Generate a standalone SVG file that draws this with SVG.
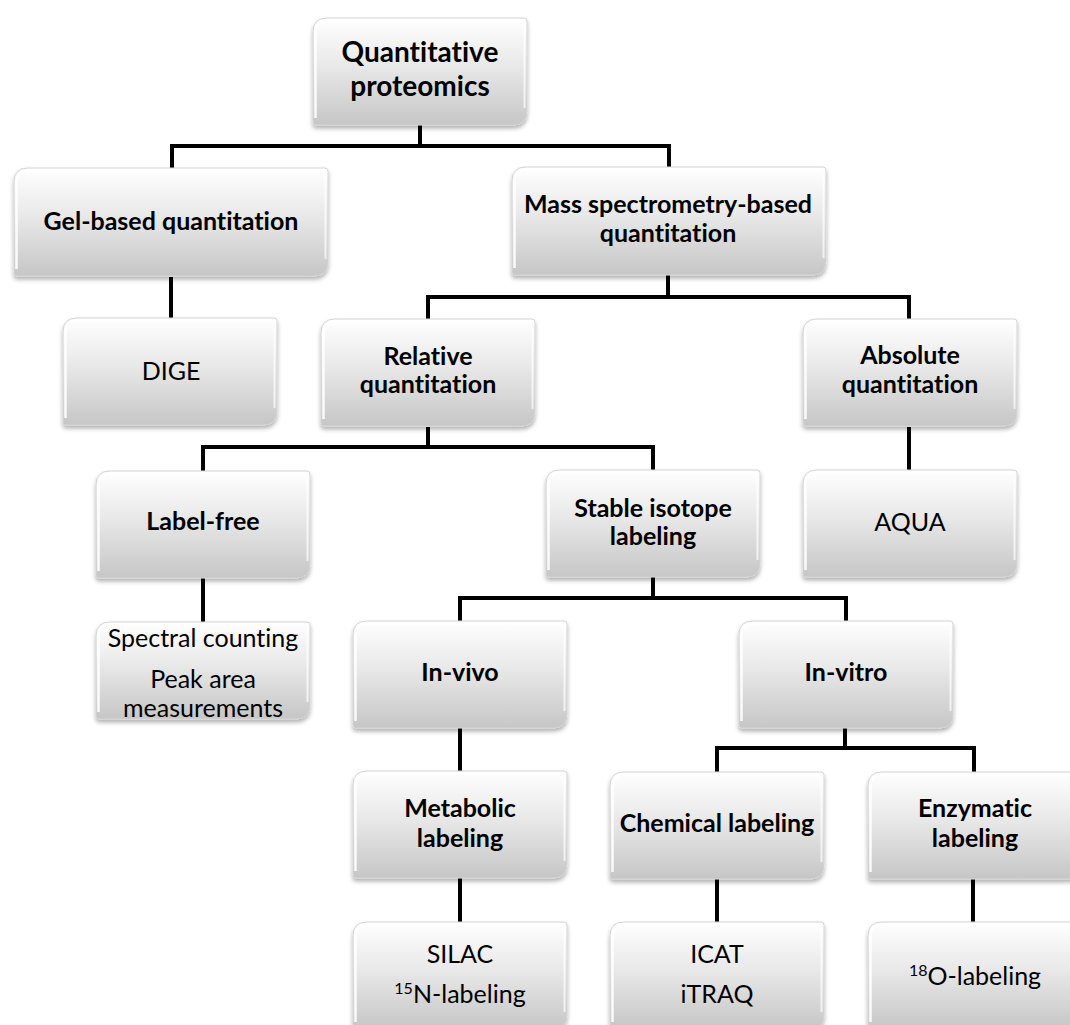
<svg xmlns="http://www.w3.org/2000/svg" xmlns:xlink="http://www.w3.org/1999/xlink" width="1070" height="1025" viewBox="0 0 1070 1025">
<style>
.c{fill:none;stroke:#000;stroke-width:4;stroke-linejoin:miter;stroke-linecap:butt}
.h{font-family:Lato,"Liberation Sans",sans-serif;font-weight:bold;font-size:25px;fill:#000;text-anchor:middle;font-variant-ligatures:none}
.l{font-family:Lato,"Liberation Sans",sans-serif;font-weight:normal;font-size:25px;fill:#000;text-anchor:middle;font-variant-ligatures:none}
.bx{filter:url(#sh)}
</style>
<defs>
<linearGradient id="gr" x1="0" y1="0" x2="0" y2="1">
<stop offset="0" stop-color="#ffffff"/>
<stop offset="0.45" stop-color="#e8e8e8"/>
<stop offset="1" stop-color="#c6c6c6"/>
</linearGradient>
<filter id="sh" x="-10%" y="-10%" width="120%" height="130%">
<feDropShadow dx="0" dy="3" stdDeviation="2" flood-color="#000" flood-opacity="0.3"/>
</filter>
<g id="b">
<path d="M14,0 H211 Q214,0 214,3 V93 Q214,107 200,107 H3 Q0,107 0,104 V14 Q0,0 14,0 Z" fill="url(#gr)" stroke="#d4d4d4" stroke-width="1"/>
<path d="M2.5,100 V15 Q2.5,2.5 15,2.5 H209" fill="none" stroke="#fff" stroke-width="2.5" opacity="0.9"/>
<path d="M211.5,7 V90" fill="none" stroke="#fff" stroke-width="2" opacity="0.7"/>
</g>
<g id="w">
<path d="M14,0 H311 Q314,0 314,3 V94 Q314,108 300,108 H3 Q0,108 0,105 V14 Q0,0 14,0 Z" fill="url(#gr)" stroke="#d4d4d4" stroke-width="1"/>
<path d="M2.5,101 V15 Q2.5,2.5 15,2.5 H309" fill="none" stroke="#fff" stroke-width="2.5" opacity="0.9"/>
<path d="M311.5,7 V91" fill="none" stroke="#fff" stroke-width="2" opacity="0.7"/>
</g>
<g id="s">
<path d="M14,0 H211 Q214,0 214,3 V83 Q214,97 200,97 H3 Q0,97 0,94 V14 Q0,0 14,0 Z" fill="url(#gr)" stroke="#d4d4d4" stroke-width="1"/>
<path d="M2.5,90 V15 Q2.5,2.5 15,2.5 H209" fill="none" stroke="#fff" stroke-width="2.5" opacity="0.9"/>
<path d="M211.5,7 V80" fill="none" stroke="#fff" stroke-width="2" opacity="0.7"/>
</g>
</defs>
<rect width="1070" height="1025" fill="#fff"/>
<g id="connectors">
<path class="c" d="M420,125 V146 M172,168 V146 H669 V167"/>
<path class="c" d="M171,277 V318"/>
<path class="c" d="M668,275 V297 M428,319 V297 H909 V319"/>
<path class="c" d="M428,427 V447 M203,471 V447 H653 V470"/>
<path class="c" d="M909,427 V470"/>
<path class="c" d="M203,577 V622"/>
<path class="c" d="M653,577 V598 M460,621 V598 H846 V621"/>
<path class="c" d="M460,727 V771"/>
<path class="c" d="M845,727 V748 M717,772 V748 H974 V772"/>
<path class="c" d="M460,878 V922"/>
<path class="c" d="M717,878 V922"/>
<path class="c" d="M973,878 V922"/>
</g>
<g id="root"><use class="bx" href="#b" x="313" y="18"/><text class="h" style="font-size:28px" x="420" y="62">Quantitative</text><text class="h" style="font-size:28px" x="420" y="96">proteomics</text></g>
<g id="gel"><use class="bx" href="#w" x="14" y="168"/><text class="h" x="171" y="230">Gel-based quantitation</text></g>
<g id="mass"><use class="bx" href="#w" x="512" y="167"/><text class="h" x="668" y="213">Mass spectrometry-based</text><text class="h" x="668" y="242">quantitation</text></g>
<g id="dige"><use class="bx" href="#b" x="63" y="318"/><text class="l" x="171" y="380">DIGE</text></g>
<g id="relative"><use class="bx" href="#b" x="321" y="319"/><text class="h" x="428" y="365">Relative</text><text class="h" x="428" y="393">quantitation</text></g>
<g id="absolute"><use class="bx" href="#b" x="803" y="319"/><text class="h" x="910" y="364">Absolute</text><text class="h" x="910" y="393">quantitation</text></g>
<g id="labelfree"><use class="bx" href="#b" x="96" y="471"/><text class="h" x="203" y="530">Label-free</text></g>
<g id="stable"><use class="bx" href="#b" x="546" y="470"/><text class="h" x="653" y="517">Stable isotope</text><text class="h" x="653" y="545">labeling</text></g>
<g id="aqua"><use class="bx" href="#b" x="803" y="470"/><text class="l" x="910" y="531">AQUA</text></g>
<g id="spectral"><use class="bx" href="#s" x="96" y="622"/><text class="l" x="203" y="647">Spectral counting</text><text class="l" x="203" y="688">Peak area</text><text class="l" x="203" y="717">measurements</text></g>
<g id="invivo"><use class="bx" href="#b" x="353" y="621"/><text class="h" x="460" y="681">In-vivo</text></g>
<g id="invitro"><use class="bx" href="#b" x="739" y="621"/><text class="h" x="846" y="681">In-vitro</text></g>
<g id="metabolic"><use class="bx" href="#b" x="353" y="771"/><text class="h" x="460" y="817">Metabolic</text><text class="h" x="460" y="847">labeling</text></g>
<g id="chemical"><use class="bx" href="#b" x="610" y="772"/><text class="h" x="717" y="832">Chemical labeling</text></g>
<g id="enzymatic"><use class="bx" href="#b" x="868" y="772"/><text class="h" x="975" y="817">Enzymatic</text><text class="h" x="975" y="847">labeling</text></g>
<g id="silac"><use class="bx" href="#b" x="353" y="922"/><text class="l" x="460" y="963">SILAC</text><text class="l" x="460" y="1003"><tspan font-size="16" dy="-9">15</tspan><tspan dy="9">N-labeling</tspan></text></g>
<g id="icat"><use class="bx" href="#b" x="610" y="922"/><text class="l" x="717" y="963">ICAT</text><text class="l" x="717" y="1003">iTRAQ</text></g>
<g id="o18"><use class="bx" href="#b" x="868" y="922"/><text class="l" x="975" y="985"><tspan font-size="16" dy="-9">18</tspan><tspan dy="9">O-labeling</tspan></text></g>
</svg>
